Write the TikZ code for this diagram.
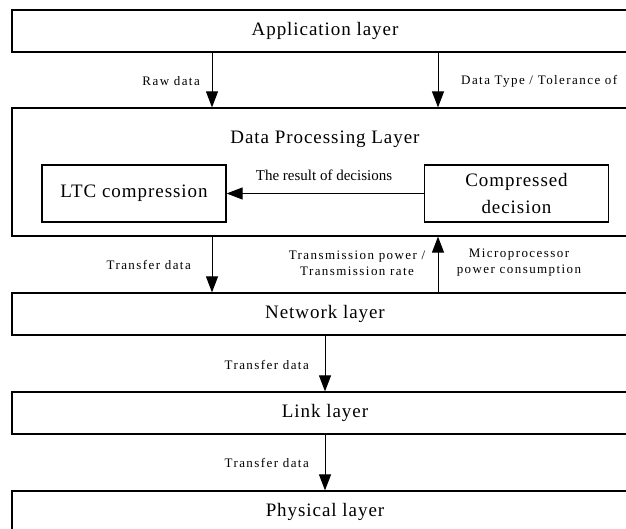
\documentclass[tikz,border=0pt]{standalone}
\usepackage{fontspec}
\setmainfont{Liberation Serif}
\newfontfamily\layerfont[LetterSpace=5]{Liberation Serif}
\newfontfamily\lblfont[LetterSpace=11]{Liberation Serif}
\usetikzlibrary{arrows.meta,positioning}
\tikzset{
  layer/.style={draw,line width=1.2pt,minimum width=626pt,minimum height=42pt,inner sep=0pt,
    font=\layerfont\fontsize{19}{22}\selectfont},
  inbox/.style={draw,line width=1.2pt,minimum width=184pt,minimum height=57pt,inner sep=0pt,align=center,
    font=\layerfont\fontsize{19}{27}\selectfont},
  lbl/.style={inner sep=0pt,align=center,font=\lblfont\fontsize{13}{16}\selectfont},
  flow/.style={->,line width=1pt}
}
\begin{document}
\begin{tikzpicture}[x=1pt,y=-1pt,>={Triangle[width=12pt,length=16pt]},line join=miter]
  \useasboundingbox (0,0) rectangle (626,529);
  \clip (0,0) rectangle (626,529);
  % layers
  \node[layer] (app) at (325,31) {Application layer};
  \node[layer,minimum height=128pt] (dp) at (325,172) {};
  \node[inner sep=0pt,font=\layerfont\fontsize{19}{22}\selectfont] (dptitle) at (325,139) {Data Processing Layer};
  \node[inbox] (ltc) at (134,193.5) {LTC compression};
  \node[inbox] (cmp) at (516.5,193.5) {Compressed\\decision};
  \node[layer] (net) at (325,314) {Network layer};
  \node[layer] (link) at (325,413) {Link layer};
  \node[layer] (phy) at (325,512) {Physical layer};
  % columns of the arrows
  \coordinate (cl) at (212,0);
  \coordinate (cr) at (438,0);
  % arrows
  \draw[flow] (app.south -| cl) -- (dp.north -| cl);
  \draw[flow] (app.south -| cr) -- (dp.north -| cr);
  \draw[flow] (cmp.west) -- (ltc.east);
  \draw[flow] (dp.south -| cl) -- (net.north -| cl);
  \draw[flow] (net.north -| cr) -- (dp.south -| cr);
  \draw[flow] (net.south) -- (link.north);
  \draw[flow] (link.south) -- (phy.north);
  % labels
  \node[lbl,anchor=east] (raw) at (200,81) {Raw data};
  \node[lbl,anchor=west] (dtype) at (461,81) {Data Type / Tolerance of};
  \node[inner sep=0pt,font=\fontsize{15}{18}\selectfont] (res) at (324,175) {The result of decisions};
  \node[lbl,anchor=east] (tr1) at (191,265) {Transfer data};
  \node[lbl] (tpow) at (357,263) {Transmission power /\\Transmission rate};
  \node[lbl] (mcu) at (519,263) {Microprocessor\\power consumption};
  \node[lbl,anchor=east] (tr2) at (309,365) {Transfer data};
  \node[lbl,anchor=east] (tr3) at (309,463) {Transfer data};
\end{tikzpicture}
\end{document}
